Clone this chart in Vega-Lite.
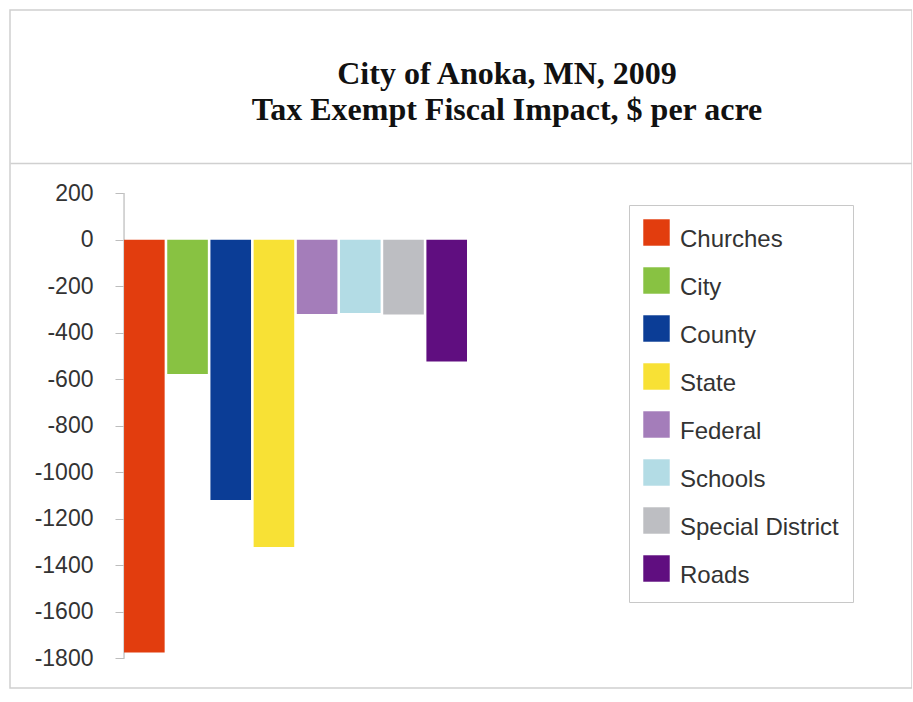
{
  "$schema": "https://vega.github.io/schema/vega-lite/v6.json",
  "width": 902,
  "height": 678,
  "padding": {"left": 10, "top": 10, "right": 0, "bottom": 10},
  "background": "white",
  "config": {
    "view": {"stroke": "#d0d0d0", "strokeWidth": 1.5},
    "font": "Liberation Sans"
  },
  "title": {
    "text": ["City of Anoka, MN, 2009", "Tax Exempt Fiscal Impact, $ per acre"],
    "font": "Liberation Serif",
    "fontSize": 32,
    "fontWeight": "bold",
    "color": "#111111",
    "anchor": "middle",
    "lineHeight": 36,
    "dx": 46,
    "offset": -117
  },
  "data": {
    "values": [
      {"category": "Churches", "value": -1775},
      {"category": "City", "value": -578},
      {"category": "County", "value": -1119},
      {"category": "State", "value": -1322},
      {"category": "Federal", "value": -319},
      {"category": "Schools", "value": -315},
      {"category": "Special District", "value": -322},
      {"category": "Roads", "value": -524}
    ]
  },
  "layer": [
    {
      "data": {"values": [{}]},
      "mark": {"type": "rule", "color": "#c8c8c8", "strokeWidth": 1.5},
      "encoding": {
        "x": {"datum": "2009", "type": "nominal", "bandPosition": 0},
        "y": {"datum": -1800, "type": "quantitative"},
        "y2": {"datum": 200}
      }
    },
    {
      "mark": {"type": "bar"},
      "encoding": {
        "x": {
          "datum": "2009",
          "type": "nominal",
          "scale": {"paddingInner": 0, "paddingOuter": 0.815, "align": 0.204},
          "axis": {
            "orient": "top",
            "offset": -153,
            "labels": false,
            "ticks": false,
            "title": null,
            "domainColor": "#d0d0d0",
            "domainWidth": 1.5
          }
        },
        "xOffset": {
          "field": "category",
          "type": "nominal",
          "scale": {
            "domain": ["Churches", "City", "County", "State", "Federal", "Schools", "Special District", "Roads"],
            "paddingInner": 0.06,
            "paddingOuter": 0
          }
        },
        "y": {
          "field": "value",
          "type": "quantitative",
          "scale": {"domain": [-1928, 988], "nice": false, "zero": false},
          "axis": {
            "values": [200, 0, -200, -400, -600, -800, -1000, -1200, -1400, -1600, -1800],
            "labelExpr": "'' + datum.value",
            "offset": -114,
            "domain": false,
            "grid": false,
            "tickColor": "#bdbdbd",
            "tickSize": 9,
            "labelFontSize": 23,
            "labelFont": "Liberation Sans",
            "labelColor": "#333333",
            "labelPadding": 22,
            "labelOverlap": false,
            "title": null
          }
        },
        "color": {
          "field": "category",
          "type": "nominal",
          "scale": {
            "domain": ["Churches", "City", "County", "State", "Federal", "Schools", "Special District", "Roads"],
            "range": ["#E23D0E", "#88C242", "#0B3D96", "#F8E135", "#A47DBA", "#B3DCE5", "#BDBEC2", "#600E80"]
          },
          "legend": {
            "orient": "none",
            "legendX": 619,
            "legendY": 195,
            "title": null,
            "symbolType": "square",
            "symbolSize": 700,
            "symbolStrokeWidth": 0,
            "symbolOpacity": 1,
            "labelFontSize": 24,
            "labelFont": "Liberation Sans",
            "labelColor": "#333333",
            "labelOffset": 10,
            "labelLimit": 300,
            "rowPadding": 15,
            "padding": 14,
            "strokeColor": "#c8c8c8",
            "encode": {"labels": {"update": {"dy": {"value": 7}}}}
          }
        }
      }
    }
  ]
}
